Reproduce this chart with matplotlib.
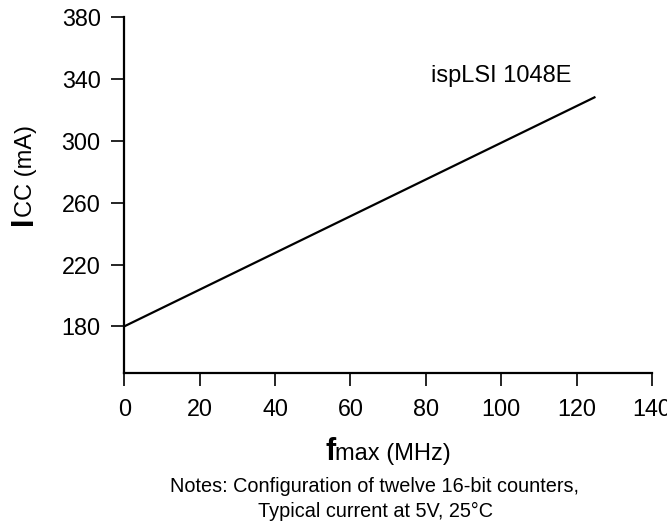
import matplotlib
matplotlib.use("Agg")
import matplotlib.pyplot as plt

plt.rcParams['font.family'] = ['Liberation Sans', 'DejaVu Sans']

fmax = [0, 125]
icc = [180, 328.5]
xticks = [0, 20, 40, 60, 80, 100, 120, 140]
yticks = [180, 220, 260, 300, 340, 380]
series_label = "ispLSI 1048E"
notes = ["Notes: Configuration of twelve 16-bit counters,", "Typical current at 5V, 25\u00b0C"]

W, H = 667, 523
fig = plt.figure(figsize=(W / 100, H / 100), dpi=100)
L, R, T, B = 124.3, 652, 17.3, 372.7
ax = fig.add_axes([L / W, 1 - B / H, (R - L) / W, (B - T) / H])
ax.plot(fmax, icc, color='black', lw=1.6, solid_capstyle='butt')
ax.set_xlim(0, 140)
ax.set_ylim(150, 380)
ax.set_xticks(xticks)
ax.set_yticks(yticks)
for s in ['top', 'right']:
    ax.spines[s].set_visible(False)
for s in ['left', 'bottom']:
    ax.spines[s].set_linewidth(1.6)
ax.spines['left'].set_bounds(150, 380)
ax.tick_params(direction='out', length=9.5, width=1.2, labelsize=16.8)
ax.tick_params(axis='x', pad=9)
ax.tick_params(axis='y', pad=7.5)
ax.text(100, 338, series_label, ha='center', va='baseline', fontsize=17)

fig.canvas.draw()
r = fig.canvas.get_renderer()

# x label: bold f + "max (MHz)"
base_y = 1 - 460 / H
t1 = fig.text(0, base_y, 'f', fontsize=22, fontweight='bold', ha='left', va='baseline')
t2 = fig.text(0, base_y, 'max (MHz)', fontsize=17, ha='left', va='baseline')
w1 = t1.get_window_extent(r).width
w2 = t2.get_window_extent(r).width
x0 = 388 - (w1 + w2) / 2
t1.set_x(x0 / W)
t2.set_x((x0 + w1) / W)

# y label: bold I + "CC (mA)" rotated
bx = 32 / W
y0 = 225
s1 = fig.text(bx, 1 - y0 / H, 'I', fontsize=22, fontweight='bold', rotation=90,
              rotation_mode='anchor', ha='left', va='baseline')
h1 = s1.get_window_extent(r).height
fig.text(bx, 1 - (y0 - h1) / H, 'CC (mA)', fontsize=17, rotation=90,
         rotation_mode='anchor', ha='left', va='baseline')

fig.text(375 / W, 1 - 492 / H, notes[0], fontsize=14.3, ha='center', va='baseline')
fig.text(375 / W, 1 - 517 / H, notes[1], fontsize=14.3, ha='center', va='baseline')

fig.savefig('out.png', dpi=100)
